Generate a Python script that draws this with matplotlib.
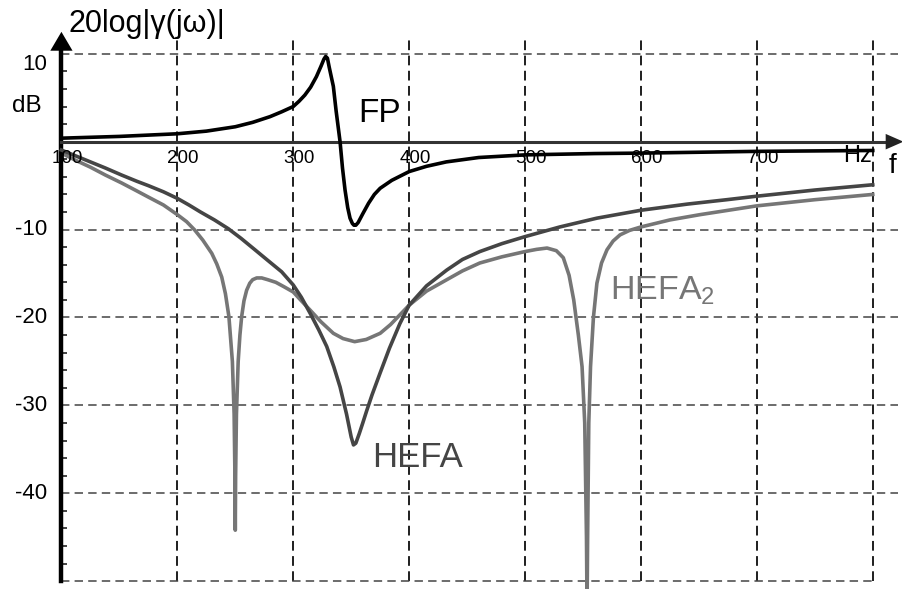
import numpy as np
import matplotlib
matplotlib.use("Agg")
import matplotlib.pyplot as plt

plt.rcParams['font.family'] = ['Liberation Sans', 'DejaVu Sans']
plt.rcParams['mathtext.fontset'] = 'custom'
plt.rcParams['mathtext.rm'] = 'Liberation Sans'
plt.rcParams['mathtext.it'] = 'Liberation Sans:italic'

# frequency response curves, read as (Hz, dB)
fp_freq = [100, 125, 150, 175, 200, 225, 250, 265, 280, 290, 300, 305, 310,
           315, 320, 324, 326.5, 328, 329.5, 331, 334.6, 337, 340.4, 342.5,
           344.7, 347, 349, 351, 352.4, 354, 356, 360, 365, 370, 375, 385,
           400, 415, 432, 460, 500, 560, 600, 650, 700, 750, 800]
fp_db = [0.4, 0.5, 0.6, 0.75, 0.9, 1.2, 1.7, 2.2, 2.85, 3.4, 4.0, 4.6, 5.3,
         6.2, 7.4, 8.6, 9.4, 9.7, 9.5, 8.5, 6.3, 3.5, 0.0, -3.0,
         -5.5, -7.5, -8.7, -9.3, -9.5, -9.5, -9.2, -8.2, -7.0, -6.0, -5.3, -4.4,
         -3.4, -2.8, -2.3, -1.8, -1.5, -1.35, -1.3, -1.2, -1.1, -1.05, -1.0]

hefa_freq = [100, 112, 125, 138, 152, 165, 175, 188, 200, 210, 220, 232, 244,
             255, 267, 278, 290, 300, 307, 314.5, 322, 328.9, 335, 340.4, 346,
             350, 352, 354, 357, 360, 363.4, 368, 375, 383, 392, 400, 415,
             432.5, 446, 461, 480, 500, 530, 562, 600, 640, 674, 700, 750, 800]
hefa_db = [-0.95, -1.6, -2.3, -3.0, -3.8, -4.5, -5.0, -5.7, -6.45, -7.2, -8.0,
           -8.9, -9.9, -11.0, -12.3, -13.5, -14.8, -16.3, -17.7, -19.5, -21.4,
           -23.3, -25.6, -27.9, -31.0, -33.6, -34.5, -34.3, -33.2, -32.0, -30.6,
           -28.8, -26.3, -23.5, -20.7, -18.6, -16.4, -14.6, -13.4, -12.5, -11.6,
           -10.8, -9.7, -8.7, -7.8, -7.1, -6.6, -6.2, -5.5, -4.9]

hefa2_freq = [100, 112, 125, 138, 152, 165, 175, 188, 200, 208, 215, 222,
              229.7, 234, 238.3, 241.5, 244.5, 247.5, 249, 249.7, 250, 250.3,
              251, 252.5, 254, 255.5, 257.5, 259.8, 262.5, 265, 268.5, 272.8,
              278, 285, 292, 300, 307, 314.5, 324, 334.6, 343, 353, 363, 375,
              384, 392, 400, 415, 432.5, 446, 461, 480, 500, 510, 519, 527, 533,
              538, 542, 546, 549.2, 551.5, 553, 553.5, 554, 555, 556.5, 559, 562,
              566, 570.7, 576, 582, 590, 600, 625, 651, 700, 750, 800]
hefa2_db = [-1.3, -2.1, -2.9, -3.8, -4.7, -5.6, -6.3, -7.2, -8.3, -9.1, -10.05,
            -11.2, -12.7, -13.9, -15.4, -17.3, -19.9, -25.0, -31.0, -38.0, -44.2,
            -38.0, -31.0, -25.0, -22.0, -19.9, -18.1, -16.9, -16.1, -15.7, -15.5,
            -15.5, -15.7, -16.0, -16.5, -17.1, -18.1, -19.15, -20.5, -21.8, -22.4,
            -22.75, -22.5, -21.8, -20.8, -19.7, -18.6, -17.0, -15.7, -14.7, -13.8,
            -13.1, -12.5, -12.25, -12.1, -12.4, -13.2, -15.2, -18.0, -22.0, -25.6,
            -32.0, -45.0, -53.0, -45.0, -32.0, -25.6, -20.0, -16.1, -13.8, -12.3,
            -11.3, -10.6, -10.1, -9.7, -8.9, -8.3, -7.3, -6.6, -6.0]

x_grid = [200, 300, 400, 500, 600, 700, 800]
y_grid = [10, -10, -20, -30, -40, -50]
x_ticklabels = [100, 200, 300, 400, 500, 600, 700]
y_ticklabels = [10, -10, -20, -30, -40]

fig = plt.figure(figsize=(9.03, 5.89), dpi=100)
ax = fig.add_axes([0, 0, 1, 1])
ax.set_xlim(47.0, 826.1)
ax.set_ylim(-50.89, 16.12)
for s in ['top', 'right']:
    ax.spines[s].set_visible(False)

# axes through the origin (100 Hz, 0 dB)
ax.spines['left'].set_position(('data', 100))
ax.spines['left'].set_bounds(-50, 10.6)
ax.spines['left'].set_linewidth(3.2)
ax.spines['left'].set_color('black')
ax.spines['bottom'].set_position(('data', 0))
ax.spines['bottom'].set_bounds(100, 818)
ax.spines['bottom'].set_linewidth(2.2)
ax.spines['bottom'].set_color('#333333')
ax.set_xticks([])
ax.set_yticks([])
ax.set_yticks([v for v in range(-48, 10, 2) if v % 10 != 0], minor=True)
ax.tick_params(axis='y', which='minor', direction='in', length=4, width=1.2,
               color='#222222', labelleft=False)

# arrow heads
ax.annotate('', xy=(100, 12.5), xytext=(100, 10.0),
            arrowprops=dict(arrowstyle='-|>,head_length=0.85,head_width=0.5',
                            mutation_scale=16, color='black', lw=0,
                            shrinkA=0, shrinkB=0))
ax.annotate('', xy=(826.5, 0), xytext=(815, 0),
            arrowprops=dict(arrowstyle='-|>,head_length=0.8,head_width=0.35',
                            mutation_scale=16, color='#222222', lw=0,
                            shrinkA=0, shrinkB=0))

# dashed grid
ax.vlines(x_grid, -50, 11.57, colors='#1e1e1e', linewidth=1.4,
          linestyles=(0, (5, 2.8)), zorder=1)
ax.hlines(y_grid[:-1], 100, 821.5, colors='#444444', linewidth=1.1,
          linestyles=(0, (5.5, 3.4)), zorder=1)
ax.hlines(y_grid[-1], 100, 800, colors='#444444', linewidth=1.1,
          linestyles=(0, (5.5, 3.4)), zorder=1)

# curves
ax.plot(hefa2_freq, hefa2_db, color='#767676', lw=2.6, zorder=2,
        solid_joinstyle='round')
ax.plot(hefa_freq, hefa_db, color='#454545', lw=2.6, zorder=3,
        solid_joinstyle='round')
ax.plot(fp_freq, fp_db, color='black', lw=2.6, zorder=4,
        solid_joinstyle='round')

# tick labels
for v in x_ticklabels:
    ax.text(v + 5, -0.9, str(v), ha='center', va='top', fontsize=13.5,
            color='black', zorder=5)
for v in y_ticklabels:
    ax.text(87.8, v, str(v), ha='right', va='top' if v == 10 else 'center',
            fontsize=16, color='black')
ax.text(799.5, -2.28, 'Hz', ha='right', va='baseline', fontsize=17)
ax.text(814, -3.6, 'f', ha='left', va='baseline', fontsize=20)
ax.text(57.4, 3.41, 'dB', ha='left', va='baseline', fontsize=17.5)
ax.text(105.7, 12.48, '20log|γ(jω)|', ha='left', va='baseline', fontsize=22)

# curve names
ax.text(355.9, 2.28, 'FP', ha='left', va='baseline', fontsize=24, color='black')
ax.text(367.7, -37.05, 'HEFA', ha='left', va='baseline', fontsize=25,
        color='#454545')
ax.text(573.3, -18.0, 'HEFA$_2$', ha='left', va='baseline', fontsize=24.5,
        color='#767676')

fig.savefig('out.png', dpi=100)
